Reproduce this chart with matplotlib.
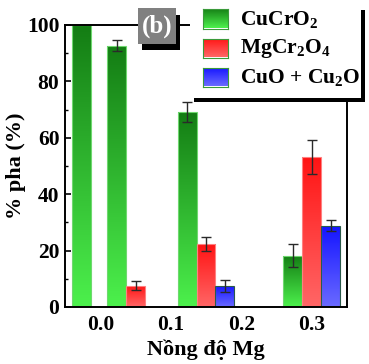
import numpy as np
import matplotlib
matplotlib.use("Agg")
import matplotlib.pyplot as plt
from matplotlib.patches import Rectangle
from matplotlib.colors import to_rgb

plt.rcParams['font.family'] = ['Liberation Serif', 'DejaVu Serif']
plt.rcParams['font.weight'] = 'bold'
plt.rcParams['mathtext.fontset'] = 'custom'
plt.rcParams['mathtext.rm'] = 'Liberation Serif:bold'
plt.rcParams['mathtext.bf'] = 'Liberation Serif:bold'
plt.rcParams['mathtext.it'] = 'Liberation Serif:bold'
plt.rcParams['mathtext.default'] = 'bf'

# ---- data ----
concentrations = [0.0, 0.05, 0.15, 0.3]
series_labels = ['CuCrO$_2$', 'MgCr$_2$O$_4$', 'CuO + Cu$_2$O']
cucro2 = [100.0, 92.7, 69.1, 18.2]
cucro2_err = [0.0, 1.9, 3.5, 4.1]
mgcr2o4 = [0.0, 7.5, 22.3, 53.2]
mgcr2o4_err = [0.0, 1.6, 2.5, 6.0]
cuo_cu2o = [0.0, 0.0, 7.5, 28.9]
cuo_cu2o_err = [0.0, 0.0, 2.1, 1.8]
xtick_values = [0.0, 0.1, 0.2, 0.3]
xtick_labels = ['0.0', '0.1', '0.2', '0.3']
ytick_values = [0, 20, 40, 60, 80, 100]
ytick_labels = ['0', '20', '40', '60', '80', '100']

# gradient colours (top, bottom)
grad_colors = [('#147d14', '#4cf04c'), ('#ff1414', '#ff6666'), ('#1414ff', '#6a6aff')]
edge_colors = ['#6fd86f', '#ff8080', '#2a5a4a']

W, H = 369, 364
fig = plt.figure(figsize=(W / 100, H / 100), dpi=100)

def fx(x):
    return x / W

def fy(y):
    return 1 - y / H

ax_l, ax_r, ax_t, ax_b = 65, 347, 25, 307
ax = fig.add_axes([fx(ax_l), fy(ax_b), (ax_r - ax_l) / W, (ax_b - ax_t) / H])

bw = 0.0269
offsets = [-bw, 0.0, bw]
series = [(cucro2, cucro2_err), (mgcr2o4, mgcr2o4_err), (cuo_cu2o, cuo_cu2o_err)]

def gradient(top, bot, n=64):
    t = np.linspace(0, 1, n)[:, None]
    c0 = np.array(to_rgb(top)); c1 = np.array(to_rgb(bot))
    return (c0[None, :] * (1 - t) + c1[None, :] * t)[:, None, :]

for si, (vals, errs) in enumerate(series):
    xs = [c + offsets[si] for c in concentrations]
    for x, v, e in zip(xs, vals, errs):
        if v <= 0:
            continue
        bars = ax.bar([x], [v], width=bw, facecolor='none', edgecolor=edge_colors[si],
                      linewidth=0.8, zorder=2)
        rect = bars[0]
        im = ax.imshow(gradient(*grad_colors[si]), extent=[x - bw / 2, x + bw / 2, 0, v],
                       aspect='auto', origin='upper', interpolation='bilinear', zorder=1.5)
        im.set_clip_path(rect)
        if e > 0:
            ax.errorbar([x], [v], yerr=[e], fmt='none', ecolor='#2a2a2a', elinewidth=1.0,
                        capsize=3.5, capthick=1.0, zorder=3)

ax.set_xlim(-0.05, 0.35)
ax.set_ylim(0, 100)
ax.set_xticks(xtick_values)
ax.set_xticklabels(xtick_labels)
ax.set_yticks(ytick_values)
ax.set_yticklabels(ytick_labels)
ax.set_yticks([10, 30, 50, 70, 90], minor=True)
ax.tick_params(axis='x', length=0, pad=6, labelsize=15.5)
ax.tick_params(axis='y', which='major', direction='in', length=4, width=1.2, pad=4, labelsize=15.5)
ax.tick_params(axis='y', which='minor', direction='in', length=2.5, width=1.0)
for lab in ax.get_xticklabels() + ax.get_yticklabels():
    lab.set_fontweight('bold')
for s in ax.spines.values():
    s.set_linewidth(1.4)

ax.set_xlabel('Nồng độ Mg', fontsize=16, fontweight='bold', labelpad=3)
ax.set_ylabel('% pha (%)', fontsize=16, fontweight='bold', labelpad=1)

# (b) label box with shadow
fig.add_artist(Rectangle((fx(142), fy(50)), fx(38), 35 / H, transform=fig.transFigure,
                         facecolor='black', edgecolor='none', zorder=5))
fig.add_artist(Rectangle((fx(138), fy(44)), fx(38), 36 / H, transform=fig.transFigure,
                         facecolor='#808080', edgecolor='none', zorder=6))
fig.text(fx(157), fy(26), '(b)', color='white', fontsize=18, fontweight='bold',
         ha='center', va='center', zorder=7)

# legend box with shadow
fig.add_artist(Rectangle((fx(194), fy(102)), fx(171), 92 / H, transform=fig.transFigure,
                         facecolor='black', edgecolor='none', zorder=5))
fig.add_artist(Rectangle((fx(190), fy(98)), fx(171), 98 / H, transform=fig.transFigure,
                         facecolor='white', edgecolor='none', zorder=6))

row_y = [19, 48, 77]
for i, lab in enumerate(series_labels):
    yc = row_y[i]
    lax = fig.add_axes([fx(203), fy(yc + 9.5), fx(25), 19 / H], zorder=8)
    lax.imshow(gradient(*grad_colors[i]), aspect='auto', interpolation='bilinear',
               extent=[0, 1, 0, 1])
    lax.set_xticks([]); lax.set_yticks([])
    for s in lax.spines.values():
        s.set_edgecolor('#3a9a3a')
        s.set_linewidth(0.8)
    fig.text(fx(240), fy(yc), lab, fontsize=15.5, fontweight='bold', ha='left', va='center',
             zorder=9)

fig.savefig('out.png', dpi=100)
